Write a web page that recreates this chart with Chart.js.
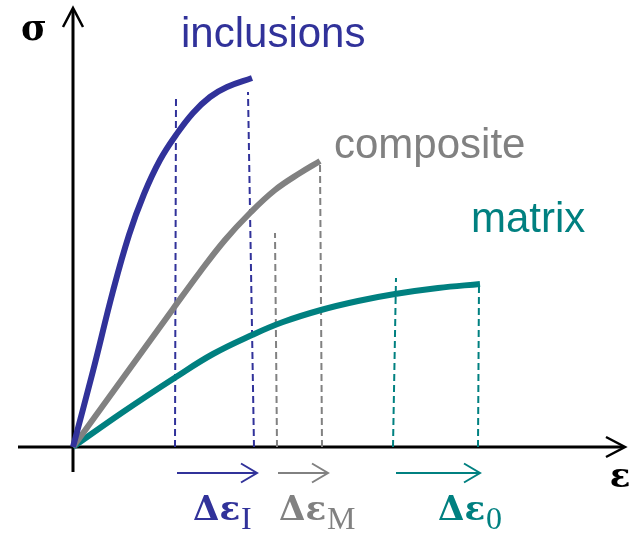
<!DOCTYPE html>
<html>
<head>
<meta charset="utf-8">
<script src="https://cdn.jsdelivr.net/npm/chart.js@4.4.1/dist/chart.umd.min.js"></script>
<style>
  html, body { margin: 0; padding: 0; background: #ffffff; }
  #wrap { width: 638px; height: 535px; }
</style>
</head>
<body>
<div id="wrap"><canvas id="c" width="638" height="535"></canvas></div>
<script>
// Stress–strain curves (arbitrary units: strain ε on x, stress σ on y)
const inclusionsStrain = [0, 2.0, 4.0, 5.6, 7.1, 8.7, 10.3, 12.0, 13.7, 15.4, 17.9];
const inclusionsStress = [0, 7.6, 15.6, 21.2, 25.3, 28.7, 31.2, 33.4, 35.0, 36.0, 36.9];
const compositeStrain  = [0, 5.0, 10.0, 12.7, 15.2, 17.7, 20.2, 22.7, 24.7];
const compositeStress  = [0, 6.9, 13.8, 17.5, 20.7, 23.4, 25.7, 27.4, 28.6];
const matrixStrain     = [0, 5.0, 10.3, 14.0, 17.9, 21.0, 24.8, 28.5, 32.2, 36.5, 40.7];
const matrixStress     = [0, 3.5, 7.0, 9.3, 11.2, 12.5, 13.7, 14.6, 15.3, 15.9, 16.3];

const seriesNames = ['inclusions', 'composite', 'matrix'];

// Vertical guide lines: strain at the foot, strain at the top, stress at the top
const guideSeries     = ['inclusions', 'inclusions', 'composite', 'composite', 'matrix', 'matrix'];
const guideFootStrain = [10.2, 18.1, 20.4, 24.9, 32.0, 40.5];
const guideTopStrain  = [10.3, 17.5, 20.2, 24.7, 32.3, 40.6];
const guideTopStress  = [35.0, 35.5, 21.4, 28.5, 16.9, 16.4];

// Strain increments shown as arrows under the strain axis
const deltaSeries = ['inclusions', 'composite', 'matrix'];
const deltaFrom   = [10.4, 20.5, 32.3];
const deltaTo     = [18.4, 25.5, 40.7];
const deltaSub    = ['I', 'M', '0'];

const colors = { inclusions: '#31329a', composite: '#818181', matrix: '#008080' };

const zip = (xs, ys) => xs.map((v, i) => ({ x: v, y: ys[i] }));

const curveData = {
  inclusions: zip(inclusionsStrain, inclusionsStress),
  composite: zip(compositeStrain, compositeStress),
  matrix: zip(matrixStrain, matrixStress)
};

const datasets = [];
seriesNames.forEach(name => {
  datasets.push({
    label: name,
    data: curveData[name],
    borderColor: colors[name],
    borderWidth: 6,
    pointRadius: 0,
    tension: 0.4,
    fill: false,
    order: 0
  });
});
guideSeries.forEach((name, i) => {
  datasets.push({
    label: name + ' guide',
    data: [{ x: guideFootStrain[i], y: 0 }, { x: guideTopStrain[i], y: guideTopStress[i] }],
    borderColor: colors[name],
    borderWidth: 2,
    borderDash: [7, 4],
    pointRadius: 0,
    tension: 0,
    fill: false,
    order: 1
  });
});

// Axes with arrowheads, increment arrows and all annotations
const diagramPlugin = {
  id: 'diagram',
  beforeDatasetsDraw(chart) {
    const { ctx, scales: { x, y } } = chart;
    const x0 = x.getPixelForValue(0);
    const y0 = y.getPixelForValue(0);
    ctx.save();
    ctx.strokeStyle = '#000';
    ctx.lineWidth = 3;
    ctx.beginPath(); ctx.moveTo(18, y0); ctx.lineTo(623, y0); ctx.stroke();
    ctx.beginPath(); ctx.moveTo(x0, 472); ctx.lineTo(x0, 10); ctx.stroke();
    ctx.lineWidth = 2.5;
    ctx.lineJoin = 'miter';
    ctx.beginPath(); ctx.moveTo(606, y0 - 10); ctx.lineTo(625, y0); ctx.lineTo(606, y0 + 10); ctx.stroke();
    ctx.beginPath(); ctx.moveTo(x0 - 10, 27); ctx.lineTo(x0, 8); ctx.lineTo(x0 + 10, 27); ctx.stroke();
    ctx.restore();
  },
  afterDatasetsDraw(chart) {
    const { ctx, scales: { x, y } } = chart;
    const y0 = y.getPixelForValue(0);
    ctx.save();

    // increment arrows
    deltaSeries.forEach((name, i) => {
      const a = x.getPixelForValue(deltaFrom[i]);
      const b = x.getPixelForValue(deltaTo[i]);
      const ay = y0 + 26;
      ctx.strokeStyle = colors[name];
      ctx.lineWidth = 2;
      ctx.beginPath(); ctx.moveTo(a, ay); ctx.lineTo(b, ay); ctx.stroke();
      ctx.beginPath(); ctx.moveTo(b - 16, ay - 9.5); ctx.lineTo(b, ay); ctx.lineTo(b - 16, ay + 9.5); ctx.stroke();

      // Δε with subscript under each arrow
      const left = [193, 279, 438][i];
      ctx.fillStyle = colors[name];
      ctx.textAlign = 'left';
      ctx.textBaseline = 'alphabetic';
      ctx.font = 'bold 34px "DejaVu Serif"';
      ctx.fillText('Δε', left, 520);
      const w = ctx.measureText('Δε').width;
      ctx.font = '32px "Liberation Serif"';
      ctx.fillText(deltaSub[i], left + w + 1, 529);
    });

    // curve names
    ctx.font = '42px "Liberation Sans"';
    ctx.textAlign = 'left';
    ctx.fillStyle = colors.inclusions;
    ctx.fillText('inclusions', 181, 47);
    ctx.fillStyle = colors.composite;
    ctx.fillText('composite', 334, 158);
    ctx.fillStyle = colors.matrix;
    ctx.fillText('matrix', 471, 232);

    // axis symbols
    ctx.fillStyle = '#000';
    ctx.textAlign = 'center';
    ctx.font = 'bold 35px "DejaVu Serif"';
    ctx.fillText('σ', 34, 40);
    ctx.font = 'bold 34px "DejaVu Serif"';
    ctx.fillText('ε', 620, 487);
    ctx.restore();
  }
};

new Chart(document.getElementById('c'), {
  type: 'line',
  data: { datasets },
  options: {
    responsive: false,
    animation: false,
    events: [],
    layout: { padding: 0 },
    plugins: { legend: { display: false }, tooltip: { enabled: false } },
    scales: {
      x: { type: 'linear', min: -7.3, max: 56.5, display: false },
      y: { type: 'linear', min: -8.8, max: 44.7, display: false }
    }
  },
  plugins: [diagramPlugin]
});
</script>
</body>
</html>
